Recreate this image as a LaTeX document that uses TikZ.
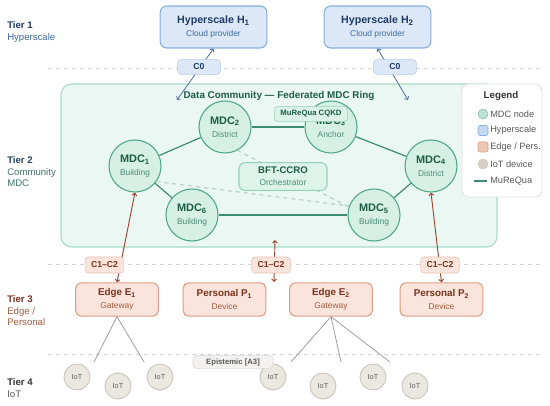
\documentclass[tikz,border=0pt]{standalone}
\usepackage{fontspec}
\setmainfont{Liberation Sans}
\usepackage{xcolor}
\usetikzlibrary{arrows.meta,positioning}

\definecolor{mdcfill}{HTML}{D6F0E5}
\definecolor{mdcline}{HTML}{4FA888}
\definecolor{mdctext}{HTML}{1E5C47}
\definecolor{mdcsub}{HTML}{4E8B77}
\definecolor{commfill}{HTML}{EBF7F2}
\definecolor{commline}{HTML}{A6DCC5}
\definecolor{linkgreen}{HTML}{3E8C6F}
\definecolor{linkdash}{HTML}{A9C9BC}
\definecolor{hypfill}{HTML}{DCE8F7}
\definecolor{hypline}{HTML}{86AEDF}
\definecolor{hyptext}{HTML}{1F3C66}
\definecolor{hypsub}{HTML}{3E6BA3}
\definecolor{hyparrow}{HTML}{4D6E9E}
\definecolor{edgefill}{HTML}{FBE4DB}
\definecolor{edgeline}{HTML}{DE9C85}
\definecolor{edgetext}{HTML}{7A3320}
\definecolor{edgesub}{HTML}{A45C40}
\definecolor{edgearrow}{HTML}{9A4535}
\definecolor{iotfill}{HTML}{EBE8E2}
\definecolor{iotline}{HTML}{CBC6BC}
\definecolor{iottext}{HTML}{5E5E5E}
\definecolor{tiergray}{HTML}{D4D4D4}

\newcommand{\subl}[2]{{\fontsize{6.3}{9.75}\selectfont\mdseries\color{#1}#2}}

\begin{document}
\begin{tikzpicture}[x=0.75pt, y=-0.75pt,
    >={Straight Barb[length=1.8pt,width=3.6pt]},
    tierline/.style={tiergray, dashed, line width=0.6pt},
    tierlbl/.style={anchor=west, align=left, inner sep=0pt, font=\fontsize{7.2}{8.6}\selectfont},
    mdc/.style={circle, draw=mdcline, fill=mdcfill, line width=0.8pt, minimum size=39pt,
                inner sep=0pt, align=center, text=mdctext, font=\fontsize{8.2}{9.75}\selectfont\bfseries},
    hyper/.style={rectangle, rounded corners=5pt, draw=hypline, fill=hypfill, line width=0.8pt,
                  minimum width=80pt, minimum height=31.5pt, align=center, text=hyptext,
                  font=\fontsize{8}{9.75}\selectfont\bfseries},
    edgebox/.style={rectangle, rounded corners=4pt, draw=edgeline, fill=edgefill, line width=0.8pt,
                    minimum width=62pt, minimum height=25pt, align=center, text=edgetext,
                    font=\fontsize{7.4}{9.5}\selectfont\bfseries},
    tag/.style={rectangle, rounded corners=2.5pt, inner sep=0pt, minimum height=11pt,
                font=\fontsize{6.5}{7}\selectfont\bfseries},
    c0tag/.style={tag, draw=hypline!60, fill=hypfill, text=hyptext, minimum width=32pt},
    c12tag/.style={tag, draw=edgeline!60, fill=edgefill, text=edgetext, minimum width=29pt, minimum height=12pt},
    iot/.style={circle, draw=iotline, fill=iotfill, line width=0.7pt, minimum size=19.5pt,
                inner sep=0pt, text=iottext, font=\fontsize{5.5}{6}\selectfont},
    mlink/.style={linkgreen, line width=0.9pt},
    dlink/.style={linkdash, dashed, line width=0.7pt},
    c0arrow/.style={<->, hyparrow, line width=0.6pt},
    c12arrow/.style={<->, edgearrow, line width=0.7pt},
    iotlink/.style={gray!75, line width=0.6pt},
    legtxt/.style={anchor=west, inner sep=0pt, text=black!65, font=\fontsize{6.9}{8}\selectfont}]

\useasboundingbox (0,0) rectangle (550,406);
\fill[white] (0,0) rectangle (550,406);

% tier separators and labels
\foreach \yy in {68,264,354}
  \draw[tierline] (48,\yy) -- (541,\yy);
\node[tierlbl] (tier1) at (7,32) {\textbf{\color{hyptext}Tier 1}\\\color{hypsub}Hyperscale};
\node[tierlbl] (tier2) at (7,172) {\textbf{\color{hyptext!80!mdctext}Tier 2}\\\color{mdctext!85}Community\\\color{mdctext!85}MDC};
\node[tierlbl] (tier3) at (7,311) {\textbf{\color{edgetext}Tier 3}\\\color{edgesub}Edge /\\\color{edgesub}Personal};
\node[tierlbl] (tier4) at (7,388) {\textbf{\color{black!80}Tier 4}\\\color{black!65}IoT};

% tier 1
\node[hyper] (h1) at (213.5,27) {Hyperscale H\textsubscript{1}\\\subl{hypsub}{Cloud provider}};
\node[hyper] (h2) at (377.5,27) {Hyperscale H\textsubscript{2}\\\subl{hypsub}{Cloud provider}};

% tier 2: community
\draw[commline, fill=commfill, line width=0.8pt, rounded corners=8pt] (61,84) rectangle (497,247);
\node[text=mdctext, font=\fontsize{7.4}{8}\selectfont\bfseries] (title) at (279,96) {Data Community — Federated MDC Ring};

\coordinate (c0in1) at (177,100);
\coordinate (c0in2) at (408,100);
\draw[c0arrow] (h1.south) -- (c0in1);
\draw[c0arrow] (h2.south) -- (c0in2);
\node[c0tag] (c0a) at (199,67) {C0};
\node[c0tag] (c0b) at (395,67) {C0};

\node[mdc] (mdc1) at (135,166) {MDC\textsubscript{1}\\\subl{mdcsub}{Building}};
\node[mdc] (mdc2) at (225,127) {MDC\textsubscript{2}\\\subl{mdcsub}{District}};
\node[mdc] (mdc3) at (331,127) {MDC\textsubscript{3}\\\subl{mdcsub}{Anchor}};
\node[mdc] (mdc4) at (431,166) {MDC\textsubscript{4}\\\subl{mdcsub}{District}};
\node[mdc] (mdc5) at (374,215) {MDC\textsubscript{5}\\\subl{mdcsub}{Building}};
\node[mdc] (mdc6) at (192,215) {MDC\textsubscript{6}\\\subl{mdcsub}{Building}};

\draw[mlink] (mdc1) -- (mdc2);
\draw[mlink] (mdc2) -- (mdc3);
\draw[mlink] (mdc3) -- (mdc4);
\draw[mlink] (mdc4) -- (mdc5);
\draw[mlink] (mdc5) -- (mdc6);
\draw[mlink] (mdc6) -- (mdc1);
\draw[dlink] (mdc2.-62) -- (mdc5.162);
\draw[dlink] (mdc1.-36) -- (mdc5.160);

\node[rectangle, rounded corners=4pt, draw=commline!80!mdcline, fill=mdcfill!60!commfill, line width=0.8pt,
      minimum width=66pt, minimum height=20pt, align=center, text=mdctext,
      font=\fontsize{7.2}{9}\selectfont\bfseries] (bft) at (283,176.5) {BFT-CCRO\\\subl{mdcsub}{Orchestrator}};
\node[tag, draw=commline!80!mdcline, fill=mdcfill!70!commfill, text=mdctext, minimum width=55pt,
      font=\fontsize{5.8}{6}\selectfont\bfseries] (cqkd) at (311,114) {MuReQua CQKD};

% tier 3
\node[edgebox] (e1) at (117,299.5) {Edge E\textsubscript{1}\\\subl{edgesub}{Gateway}};
\node[edgebox] (p1) at (224.5,299.5) {Personal P\textsubscript{1}\\\subl{edgesub}{Device}};
\node[edgebox] (e2) at (331,299.5) {Edge E\textsubscript{2}\\\subl{edgesub}{Gateway}};
\node[edgebox] (p2) at (441.5,299.5) {Personal P\textsubscript{2}\\\subl{edgesub}{Device}};

\coordinate (commb) at (275,240);
\coordinate (gap) at (274,282);
\draw[c12arrow] (mdc1.south) -- (e1.north);
\draw[c12arrow] (commb) -- (gap);
\draw[c12arrow] (mdc4.south) -- (p2.north);
\node[c12tag] (c12a) at (104.5,265) {C1–C2};
\node[c12tag] (c12b) at (271,265) {C1–C2};
\node[c12tag] (c12c) at (440,265) {C1–C2};

% tier 4
\node[iot] (iot1) at (77,377) {IoT};
\node[iot] (iot2) at (118,386) {IoT};
\node[iot] (iot3) at (160,377) {IoT};
\node[iot] (iot4) at (273,377) {IoT};
\node[iot] (iot5) at (323,386) {IoT};
\node[iot] (iot6) at (373,377) {IoT};
\node[iot] (iot7) at (415,386) {IoT};

\foreach \xx [count=\k] in {94,144}
  \coordinate (ea\k) at (\xx,362);
\foreach \xx [count=\k] in {291,341,390}
  \coordinate (eb\k) at (\xx,362);
\draw[iotlink] (ea1) -- (e1.south) -- (ea2);
\foreach \k in {1,2,3}
  \draw[iotlink] (e2.south) -- (eb\k);

\node[tag, draw=iotline!70, fill=iotfill!80!gray!30, text=black!65, minimum width=60pt, minimum height=9.5pt,
      font=\fontsize{5.8}{6}\selectfont\bfseries] (epist) at (233,362) {Epistemic [A3]};

% legend
\draw[black!12, fill=white, line width=0.6pt, rounded corners=5pt] (462,84) rectangle (542,197);
\node[text=black!80, font=\fontsize{7.3}{8}\selectfont\bfseries] (legtitle) at (501,96) {Legend};
\node[circle, draw=mdcline!70, fill=mdcfill!80!mdcline, minimum size=7.5pt, inner sep=0pt] (swmdc) at (483,114) {};
\node[rectangle, rounded corners=1.5pt, draw=hypline, fill=hypfill!70!hypline, minimum size=7.5pt, inner sep=0pt] (swhyp) at (483,130.5) {};
\node[rectangle, rounded corners=1.5pt, draw=edgeline, fill=edgefill!60!edgeline, minimum size=7.5pt, inner sep=0pt] (swedge) at (483,147) {};
\node[circle, draw=iotline, fill=iotline!80, minimum size=7.5pt, inner sep=0pt] (swiot) at (483,164) {};
\coordinate (swl1) at (474,181);
\coordinate (swl2) at (487,181);
\draw[linkgreen, line width=1.2pt] (swl1) -- (swl2);
\node[legtxt] (lmdc) at (490,114) {MDC node};
\node[legtxt] (lhyp) at (490,130.5) {Hyperscale};
\node[legtxt] (ledge) at (490,147) {Edge / Pers.};
\node[legtxt] (liot) at (490,164) {IoT device};
\node[legtxt] (llink) at (490,181) {MuReQua};
\end{tikzpicture}
\end{document}
